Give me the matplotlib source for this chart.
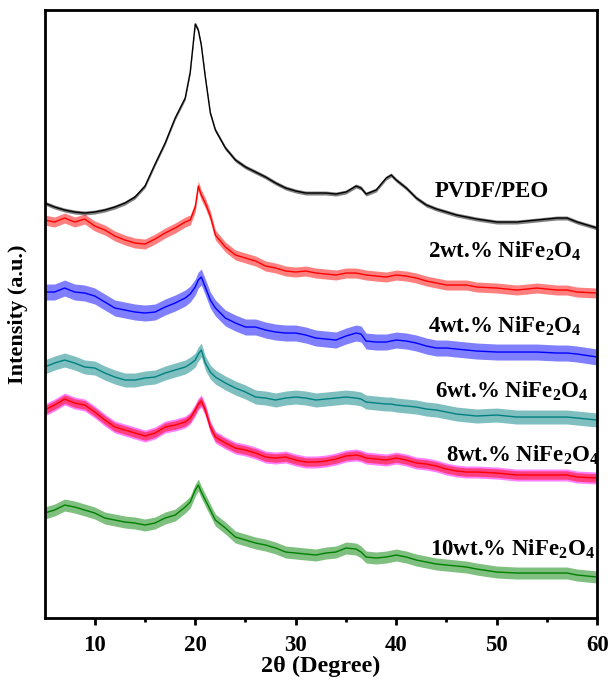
import numpy as np
import matplotlib.pyplot as plt

plt.rcParams['font.family'] = 'Liberation Serif'
plt.rcParams['font.weight'] = 'bold'
plt.rcParams['mathtext.fontset'] = 'custom'
plt.rcParams['mathtext.rm'] = 'Liberation Serif:bold'
plt.rcParams['mathtext.bf'] = 'Liberation Serif:bold'

# 2theta grid (degrees) shared by all patterns
two_theta = [5, 6, 7, 8, 9, 10, 11, 12, 13, 14, 15, 16, 17, 18, 19, 19.5, 20, 20.3, 20.6, 21,
             21.5, 22, 23, 24, 25, 26, 27, 28, 29, 30, 31, 32, 33, 34, 35, 36, 36.5, 37, 38, 39,
             39.5, 40, 41, 42, 43, 44, 45, 46, 47, 48, 50, 52, 54, 56, 57, 58, 60]

# intensities (a.u., stacked with offsets as in the figure)
pvdf_peo = [415, 411, 408, 406, 405, 406, 408, 411, 415, 421, 432, 454, 475, 500, 520, 546, 594, 588, 573, 541,
            505, 488, 470, 458, 451, 446, 441, 435, 430, 427, 425, 425, 425, 424, 426, 432, 430, 424, 428, 440,
            443, 438, 430, 420, 413, 409, 406, 403, 401, 399, 396, 396, 398, 400, 400, 396, 390]
wt2 = [398, 396, 400, 396, 399, 392, 388, 382, 378, 375, 374, 379, 385, 390, 396, 398, 411, 432, 423, 415,
       402, 383, 371, 363, 360, 357, 352, 350, 347, 346, 347, 345, 344, 343, 345, 345, 344, 343, 342, 341,
       342, 343, 342, 340, 337, 335, 333, 333, 333, 331, 330, 328, 330, 328, 328, 326, 325]
wt4 = [326, 326, 330, 326, 325, 322, 316, 310, 308, 306, 305, 306, 311, 315, 320, 324, 331, 338, 341, 331,
       318, 310, 300, 295, 291, 291, 288, 286, 285, 285, 283, 280, 279, 278, 282, 285, 284, 277, 276, 276,
       277, 278, 277, 275, 272, 270, 270, 269, 268, 267, 266, 266, 266, 265, 265, 264, 261]
wt6 = [251, 255, 258, 255, 251, 250, 245, 241, 238, 238, 240, 241, 245, 248, 251, 254, 258, 264, 268, 255,
       246, 241, 235, 230, 226, 221, 220, 218, 220, 221, 220, 218, 219, 220, 221, 220, 219, 216, 215, 214,
       214, 213, 212, 211, 209, 208, 206, 204, 203, 202, 203, 201, 201, 201, 201, 200, 198]
wt8 = [208, 213, 219, 215, 213, 206, 198, 191, 188, 185, 182, 185, 191, 193, 196, 200, 208, 214, 217, 208,
       191, 181, 175, 170, 168, 165, 161, 160, 161, 158, 156, 156, 157, 159, 162, 163, 162, 160, 159, 158,
       159, 160, 158, 155, 154, 152, 149, 147, 146, 146, 145, 143, 143, 143, 143, 141, 140]
wt10 = [105, 108, 113, 111, 108, 105, 100, 98, 96, 95, 93, 95, 100, 103, 111, 116, 128, 133, 126, 118,
        108, 98, 90, 81, 78, 75, 73, 70, 66, 65, 64, 63, 65, 66, 70, 69, 66, 61, 60, 61,
        62, 63, 61, 58, 56, 54, 53, 52, 51, 49, 46, 45, 45, 45, 45, 43, 41]

# noise spread (half width, a.u.) seen on each pattern
noise = [2, 5, 8, 7, 6, 6]

labels = ['PVDF/PEO', '2wt.% NiFe$_2$O$_4$', '4wt.% NiFe$_2$O$_4$',
          '6wt.% NiFe$_2$O$_4$', '8wt.% NiFe$_2$O$_4$', '10wt.% NiFe$_2$O$_4$']
label_x = [43.85, 43.2, 43.2, 43.9, 45.0, 43.4]
label_y = [427, 367, 292, 227, 163, 69]

series = [pvdf_peo, wt2, wt4, wt6, wt8, wt10]
colors = ['black', 'red', 'blue', '#008080', 'red', 'green']

fig = plt.figure(figsize=(6.1, 6.87), dpi=100)
ax = fig.add_axes([0.073, 0.1004, 0.906, 0.885])

x = np.array(two_theta)
for i, (y, c, w) in enumerate(zip(series, colors, noise)):
    y = np.array(y)
    if i == 4:
        # magenta trace under the red one
        ax.fill_between(x, y - w, y + w, color='magenta', alpha=0.5, lw=0)
        ax.fill_between(x, y - w * 0.7, y + w * 0.7, color='red', alpha=0.5, lw=0)
    else:
        ax.fill_between(x, y - w, y + w, color=c, alpha=0.5, lw=0)
    ax.plot(x, y, color=c, lw=1.0)

for lx, ly, t in zip(label_x, label_y, labels):
    ax.text(lx, ly, t, fontsize=16.5, fontweight='bold', va='center', ha='left')

ax.set_xlim(5, 60)
ax.set_ylim(0, 608)
ax.set_xticks([10, 20, 30, 40, 50, 60])
ax.set_xticks([15, 25, 35, 45, 55], minor=True)
ax.set_yticks([])
ax.tick_params(axis='x', which='major', direction='out', length=5, width=2, labelsize=16.5, pad=7)
ax.tick_params(axis='x', which='minor', direction='out', length=3, width=2)
for s in ax.spines.values():
    s.set_linewidth(2)
ax.set_xlabel('2θ (Degree)', fontsize=17.5, fontweight='bold', labelpad=0)
ax.set_ylabel('Intensity (a.u.)', fontsize=16, fontweight='bold', labelpad=12)

fig.savefig('out.png', dpi=100)
